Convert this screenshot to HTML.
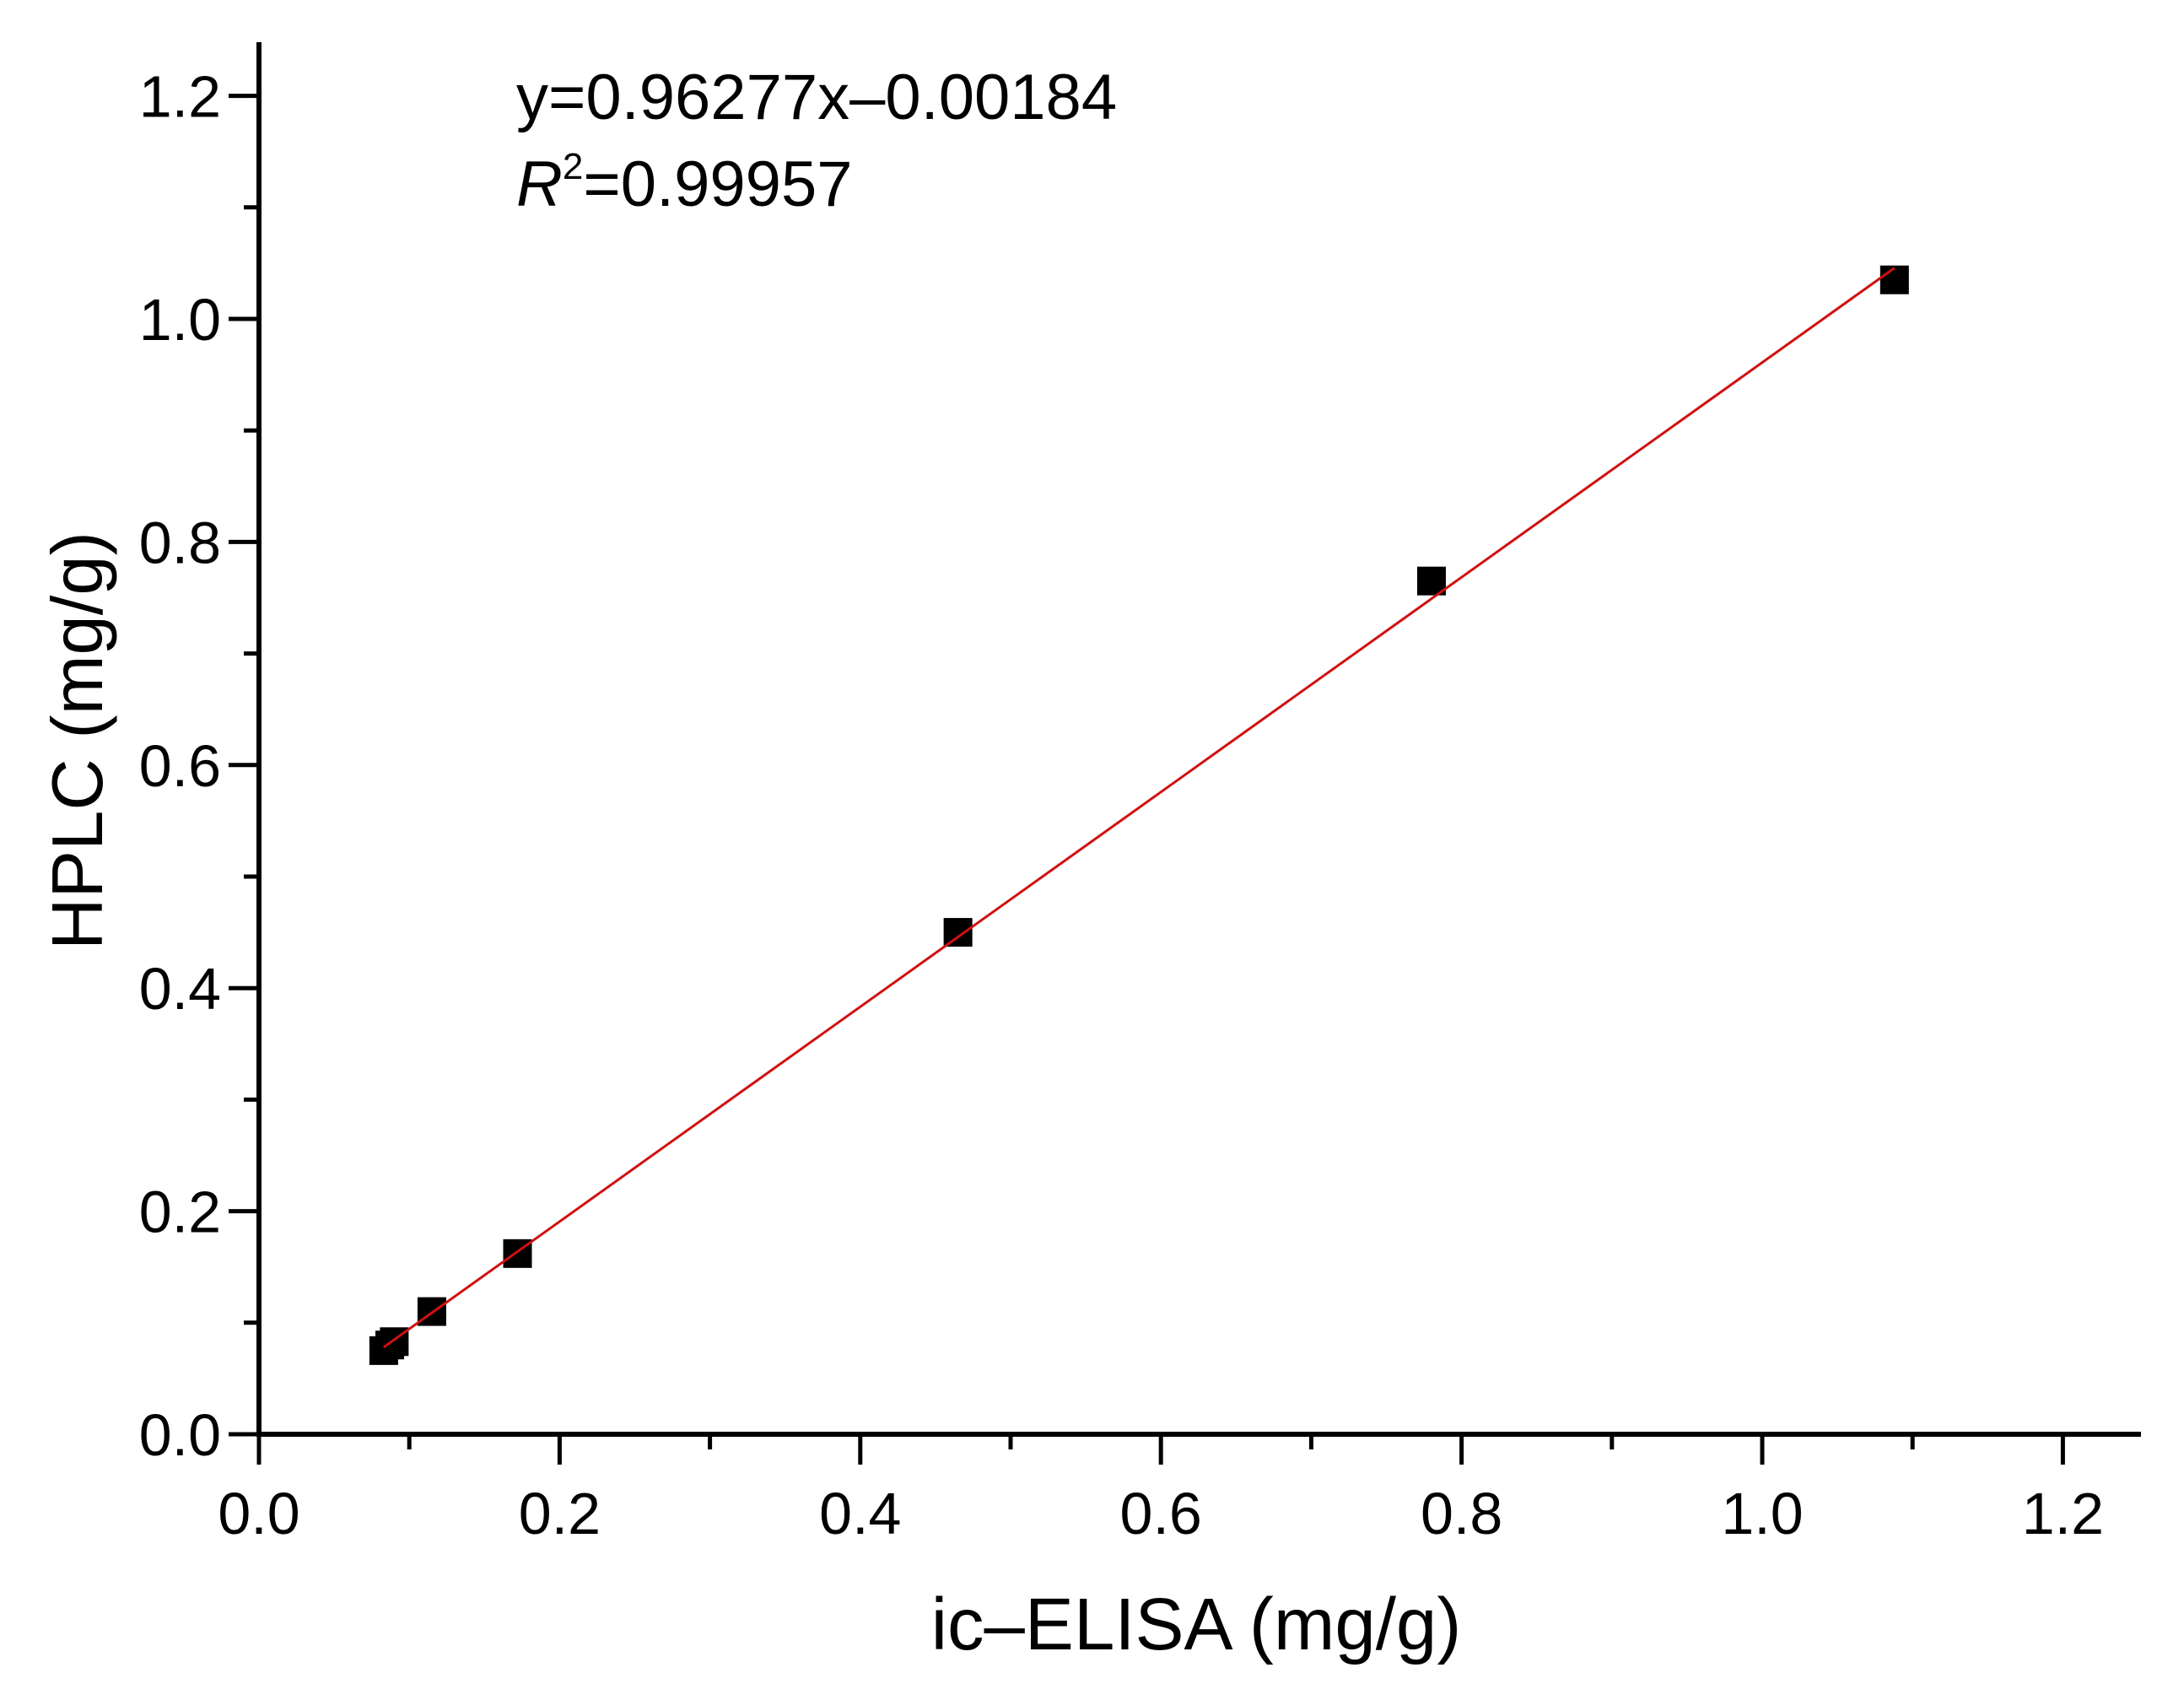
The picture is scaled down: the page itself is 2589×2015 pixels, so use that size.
<!DOCTYPE html>
<html><head><meta charset="utf-8"><style>
html,body{margin:0;padding:0;background:#fff;}
svg{display:block;font-family:"Liberation Sans",Arial,sans-serif;}
</style></head><body>
<svg id="chart" width="2589" height="2015" viewBox="0 0 2589 2015" xmlns="http://www.w3.org/2000/svg">
<rect width="2589" height="2015" fill="#fff"/>
<g id="marks"></g>
<g id="axes"></g>
<text x="612" y="141" font-size="76" fill="#000">y=0.96277x–0.00184</text>
<text x="612" y="244" font-size="76" fill="#000"><tspan font-style="italic">R</tspan><tspan font-size="44" dy="-32">2</tspan><tspan dy="32">=0.99957</tspan></text>
<text x="1418" y="1955" font-size="87" text-anchor="middle" fill="#000">ic–ELISA (mg/g)</text>
<text transform="translate(121,878) rotate(-90)" font-size="85" text-anchor="middle" fill="#000">HPLC (mg/g)</text>
</svg>
<script>
const xValues = [0.083, 0.087, 0.090, 0.115, 0.172, 0.465, 0.780, 1.088];
const yValues = [0.075, 0.080, 0.083, 0.110, 0.162, 0.450, 0.765, 1.035];
const xTickLabels = ["0.0","0.2","0.4","0.6","0.8","1.0","1.2"];
const yTickLabels = ["0.0","0.2","0.4","0.6","0.8","1.0","1.2"];
const fitSlope = 0.96277;
const fitIntercept = -0.00184;

const NS = "http://www.w3.org/2000/svg";
const X0 = 307, XU = 1782, Y0 = 1700, YU = 1322;
function sx(v){ return X0 + v * XU; }
function sy(v){ return Y0 - v * YU; }
function mk(tag, attrs, parent){
  const e = document.createElementNS(NS, tag);
  for (const k in attrs) e.setAttribute(k, attrs[k]);
  parent.appendChild(e);
  return e;
}
const axes = document.getElementById('axes');
const marks = document.getElementById('marks');

let xl = mk('line', {x1: X0 - 3, y1: Y0, x2: 2538, y2: Y0, stroke: '#000', 'stroke-width': 6}, axes);


let yl = mk('line', {x1: X0, y1: Y0 + 3, x2: X0, y2: 50, stroke: '#000', 'stroke-width': 6}, axes);



for (let i = 0; i <= 12; i++) {
  const v = i * 0.1;
  const major = i % 2 === 0;
  const len = major ? 36 : 18;
  let t = mk('line', {x1: sx(v), y1: Y0, x2: sx(v), y2: Y0 + len, stroke: '#000', 'stroke-width': 5}, axes);
  
  
  let u = mk('line', {x1: X0, y1: sy(v), x2: X0 - len, y2: sy(v), stroke: '#000', 'stroke-width': 5}, axes);
  
  
}
xTickLabels.forEach(function(lab){
  const v = parseFloat(lab);
  let t = mk('text', {x: sx(v), y: 1818, 'font-size': 70, 'text-anchor': 'middle', fill: '#000'}, axes);
  t.textContent = lab;
  
  
});
yTickLabels.forEach(function(lab){
  const v = parseFloat(lab);
  let t = mk('text', {x: 262, y: sy(v) + 25, 'font-size': 70, 'text-anchor': 'end', fill: '#000'}, axes);
  t.textContent = lab;
  
  
});

const S = 34;
xValues.forEach(function(xv, i){
  let r = mk('rect', {x: sx(xv) - S/2, y: sy(yValues[i]) - S/2, width: S, height: S, fill: '#000'}, marks);
  
  
});
const xmin = Math.min.apply(null, xValues), xmax = Math.max.apply(null, xValues);
let fl = mk('line', {x1: sx(xmin), y1: sy(fitSlope*xmin + fitIntercept), x2: sx(xmax), y2: sy(fitSlope*xmax + fitIntercept), stroke: '#d01010', 'stroke-width': 3}, marks);


</script>
</body></html>
